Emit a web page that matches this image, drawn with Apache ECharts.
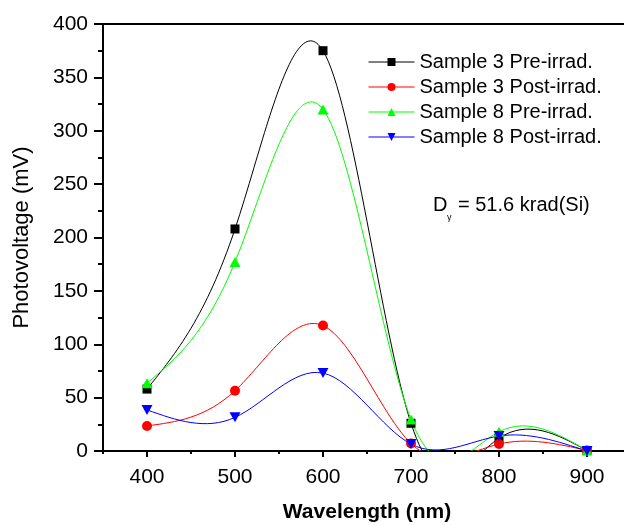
<!DOCTYPE html>
<html>
<head>
<meta charset="utf-8">
<script src="https://cdn.jsdelivr.net/npm/echarts@6/dist/echarts.min.js"></script>
<style>
  html, body { margin: 0; padding: 0; background: #fff; }
  #chart { width: 624px; height: 525px; }
</style>
</head>
<body>
<div id="chart"></div>
<script>
// Wavelengths (nm) and photovoltage readings (mV)
const wavelengths = [400, 500, 600, 700, 800, 900];
const sample3Pre  = [58, 208, 375, 26, 12, 0.5];
const sample3Post = [23.5, 56.5, 117.5, 7, 6.5, 0.5];
const sample8Pre  = [63.5, 177, 320, 29.5, 18, 0.5];
const sample8Post = [38.5, 31.5, 73, 6.5, 14, 0];

const seriesNames = ['Sample 3 Pre-irrad.', 'Sample 3 Post-irrad.', 'Sample 8 Pre-irrad.', 'Sample 8 Post-irrad.'];
const seriesColors = ['#000000', '#ff0000', '#00ff00', '#0000ff'];
const seriesSymbols = ['rect', 'circle', 'triangle', 'triangle'];
const seriesSymbolSizes = [9, 10, [11, 10], [11, 10]];
const seriesRotations = [0, 0, 0, 180];
const seriesValues = [sample3Pre, sample3Post, sample8Pre, sample8Post];

const xTickLabels = [400, 500, 600, 700, 800, 900];

const FONT = '"Liberation Sans", Arial, sans-serif';

// Natural cubic spline through (xs, ys); each interval is returned as a
// cubic Bezier in data space: [p0, c1, c2, p1].
function splineBeziers(xs, ys) {
  const n = xs.length;
  const h = [];
  for (let i = 0; i < n - 1; i++) h.push(xs[i + 1] - xs[i]);
  const M = new Array(n).fill(0);
  const a = [], b = [], c = [], d = [];
  for (let i = 1; i < n - 1; i++) {
    a.push(h[i - 1]);
    b.push(2 * (h[i - 1] + h[i]));
    c.push(h[i]);
    d.push(6 * ((ys[i + 1] - ys[i]) / h[i] - (ys[i] - ys[i - 1]) / h[i - 1]));
  }
  const m = b.length;
  for (let i = 1; i < m; i++) {
    const w = a[i] / b[i - 1];
    b[i] -= w * c[i - 1];
    d[i] -= w * d[i - 1];
  }
  const sol = new Array(m).fill(0);
  for (let i = m - 1; i >= 0; i--) {
    sol[i] = (d[i] - (i < m - 1 ? c[i] * sol[i + 1] : 0)) / b[i];
  }
  for (let i = 0; i < m; i++) M[i + 1] = sol[i];

  const segs = [];
  for (let i = 0; i < n - 1; i++) {
    const hi = h[i];
    const dy = (ys[i + 1] - ys[i]) / hi;
    const s0 = dy - hi * (2 * M[i] + M[i + 1]) / 6;
    const s1 = dy + hi * (M[i] + 2 * M[i + 1]) / 6;
    segs.push([
      [xs[i], ys[i]],
      [xs[i] + hi / 3, ys[i] + s0 * hi / 3],
      [xs[i + 1] - hi / 3, ys[i + 1] - s1 * hi / 3],
      [xs[i + 1], ys[i + 1]]
    ]);
  }
  return segs;
}

const markerSeries = seriesNames.map((name, k) => ({
  name: name,
  type: 'line',
  data: wavelengths.map((w, i) => [w, seriesValues[k][i]]),
  symbol: seriesSymbols[k],
  symbolSize: seriesSymbolSizes[k],
  symbolRotate: seriesRotations[k],
  itemStyle: { color: seriesColors[k] },
  lineStyle: { color: seriesColors[k], width: 1, opacity: 0 },
  z: 4
}));

const curveSeries = seriesNames.map((name, k) => {
  const segs = splineBeziers(wavelengths, seriesValues[k]);
  return {
    name: name,
    type: 'custom',
    clip: true,
    z: 2,
    data: wavelengths.map((w, i) => [w, seriesValues[k][i]]),
    renderItem: function (params, api) {
      if (params.dataIndex !== 0) return null;
      const p = (pt) => api.coord(pt);
      let start = p(segs[0][0]);
      let d = 'M' + start[0] + ' ' + start[1];
      segs.forEach((s) => {
        const c1 = p(s[1]), c2 = p(s[2]), e = p(s[3]);
        d += ' C' + c1[0] + ' ' + c1[1] + ' ' + c2[0] + ' ' + c2[1] + ' ' + e[0] + ' ' + e[1];
      });
      return {
        type: 'path',
        shape: { pathData: d },
        style: { fill: 'none', stroke: seriesColors[k], lineWidth: 1 },
        silent: true
      };
    }
  };
});

const chart = echarts.init(document.getElementById('chart'), null, { renderer: 'canvas' });

chart.setOption({
  animation: false,
  backgroundColor: '#ffffff',
  grid: {
    left: 103, top: 24, right: -7, bottom: 74,
    containLabel: false,
    outerBoundsMode: 'none',
    show: true, borderColor: '#000', borderWidth: 2, backgroundColor: 'transparent'
  },
  legend: {
    orient: 'vertical',
    left: 363, top: 47,
    data: seriesNames,
    itemWidth: 46, itemHeight: 10, itemGap: 5,
    lineStyle: { width: 1, opacity: 1 },
    textStyle: { fontFamily: FONT, fontSize: 20, color: '#000' },
    selectedMode: false
  },
  xAxis: {
    type: 'value',
    min: 350, max: 950, interval: 100,
    name: 'Wavelength (nm)',
    nameLocation: 'middle',
    nameGap: 51,
    nameTextStyle: { fontFamily: FONT, fontSize: 21, fontWeight: 'bold', color: '#000' },
    axisLine: { show: true, onZero: false, lineStyle: { color: '#000', width: 2 } },
    axisTick: { show: true, length: 3, lineStyle: { color: '#000', width: 2 } },
    minorTick: { show: true, splitNumber: 2, length: 6, lineStyle: { color: '#000', width: 2 } },
    axisLabel: { customValues: xTickLabels, fontFamily: FONT, fontSize: 21, color: '#000', margin: 16 },
    splitLine: { show: false },
    minorSplitLine: { show: false }
  },
  yAxis: {
    type: 'value',
    min: 0, max: 400, interval: 50,
    name: 'Photovoltage (mV)',
    nameLocation: 'middle',
    nameGap: 70,
    nameTextStyle: { fontFamily: FONT, fontSize: 22, color: '#000' },
    axisLine: { show: true, lineStyle: { color: '#000', width: 2 } },
    axisTick: { show: true, length: 9, lineStyle: { color: '#000', width: 2 } },
    minorTick: { show: true, splitNumber: 2, length: 5, lineStyle: { color: '#000', width: 2 } },
    axisLabel: { fontFamily: FONT, fontSize: 21, color: '#000', margin: 15 },
    splitLine: { show: false }
  },
  graphic: [
    { type: 'text', left: 433, top: 195, style: { text: 'D', font: '20px ' + FONT, fill: '#000' } },
    { type: 'text', left: 447, top: 213, style: { text: 'γ', font: '9px ' + FONT, fill: '#000' } },
    { type: 'text', left: 458, top: 195, style: { text: '= 51.6 krad(Si)', font: '20px ' + FONT, fill: '#000' } }
  ],
  series: markerSeries.concat(curveSeries)
});
</script>
</body>
</html>
